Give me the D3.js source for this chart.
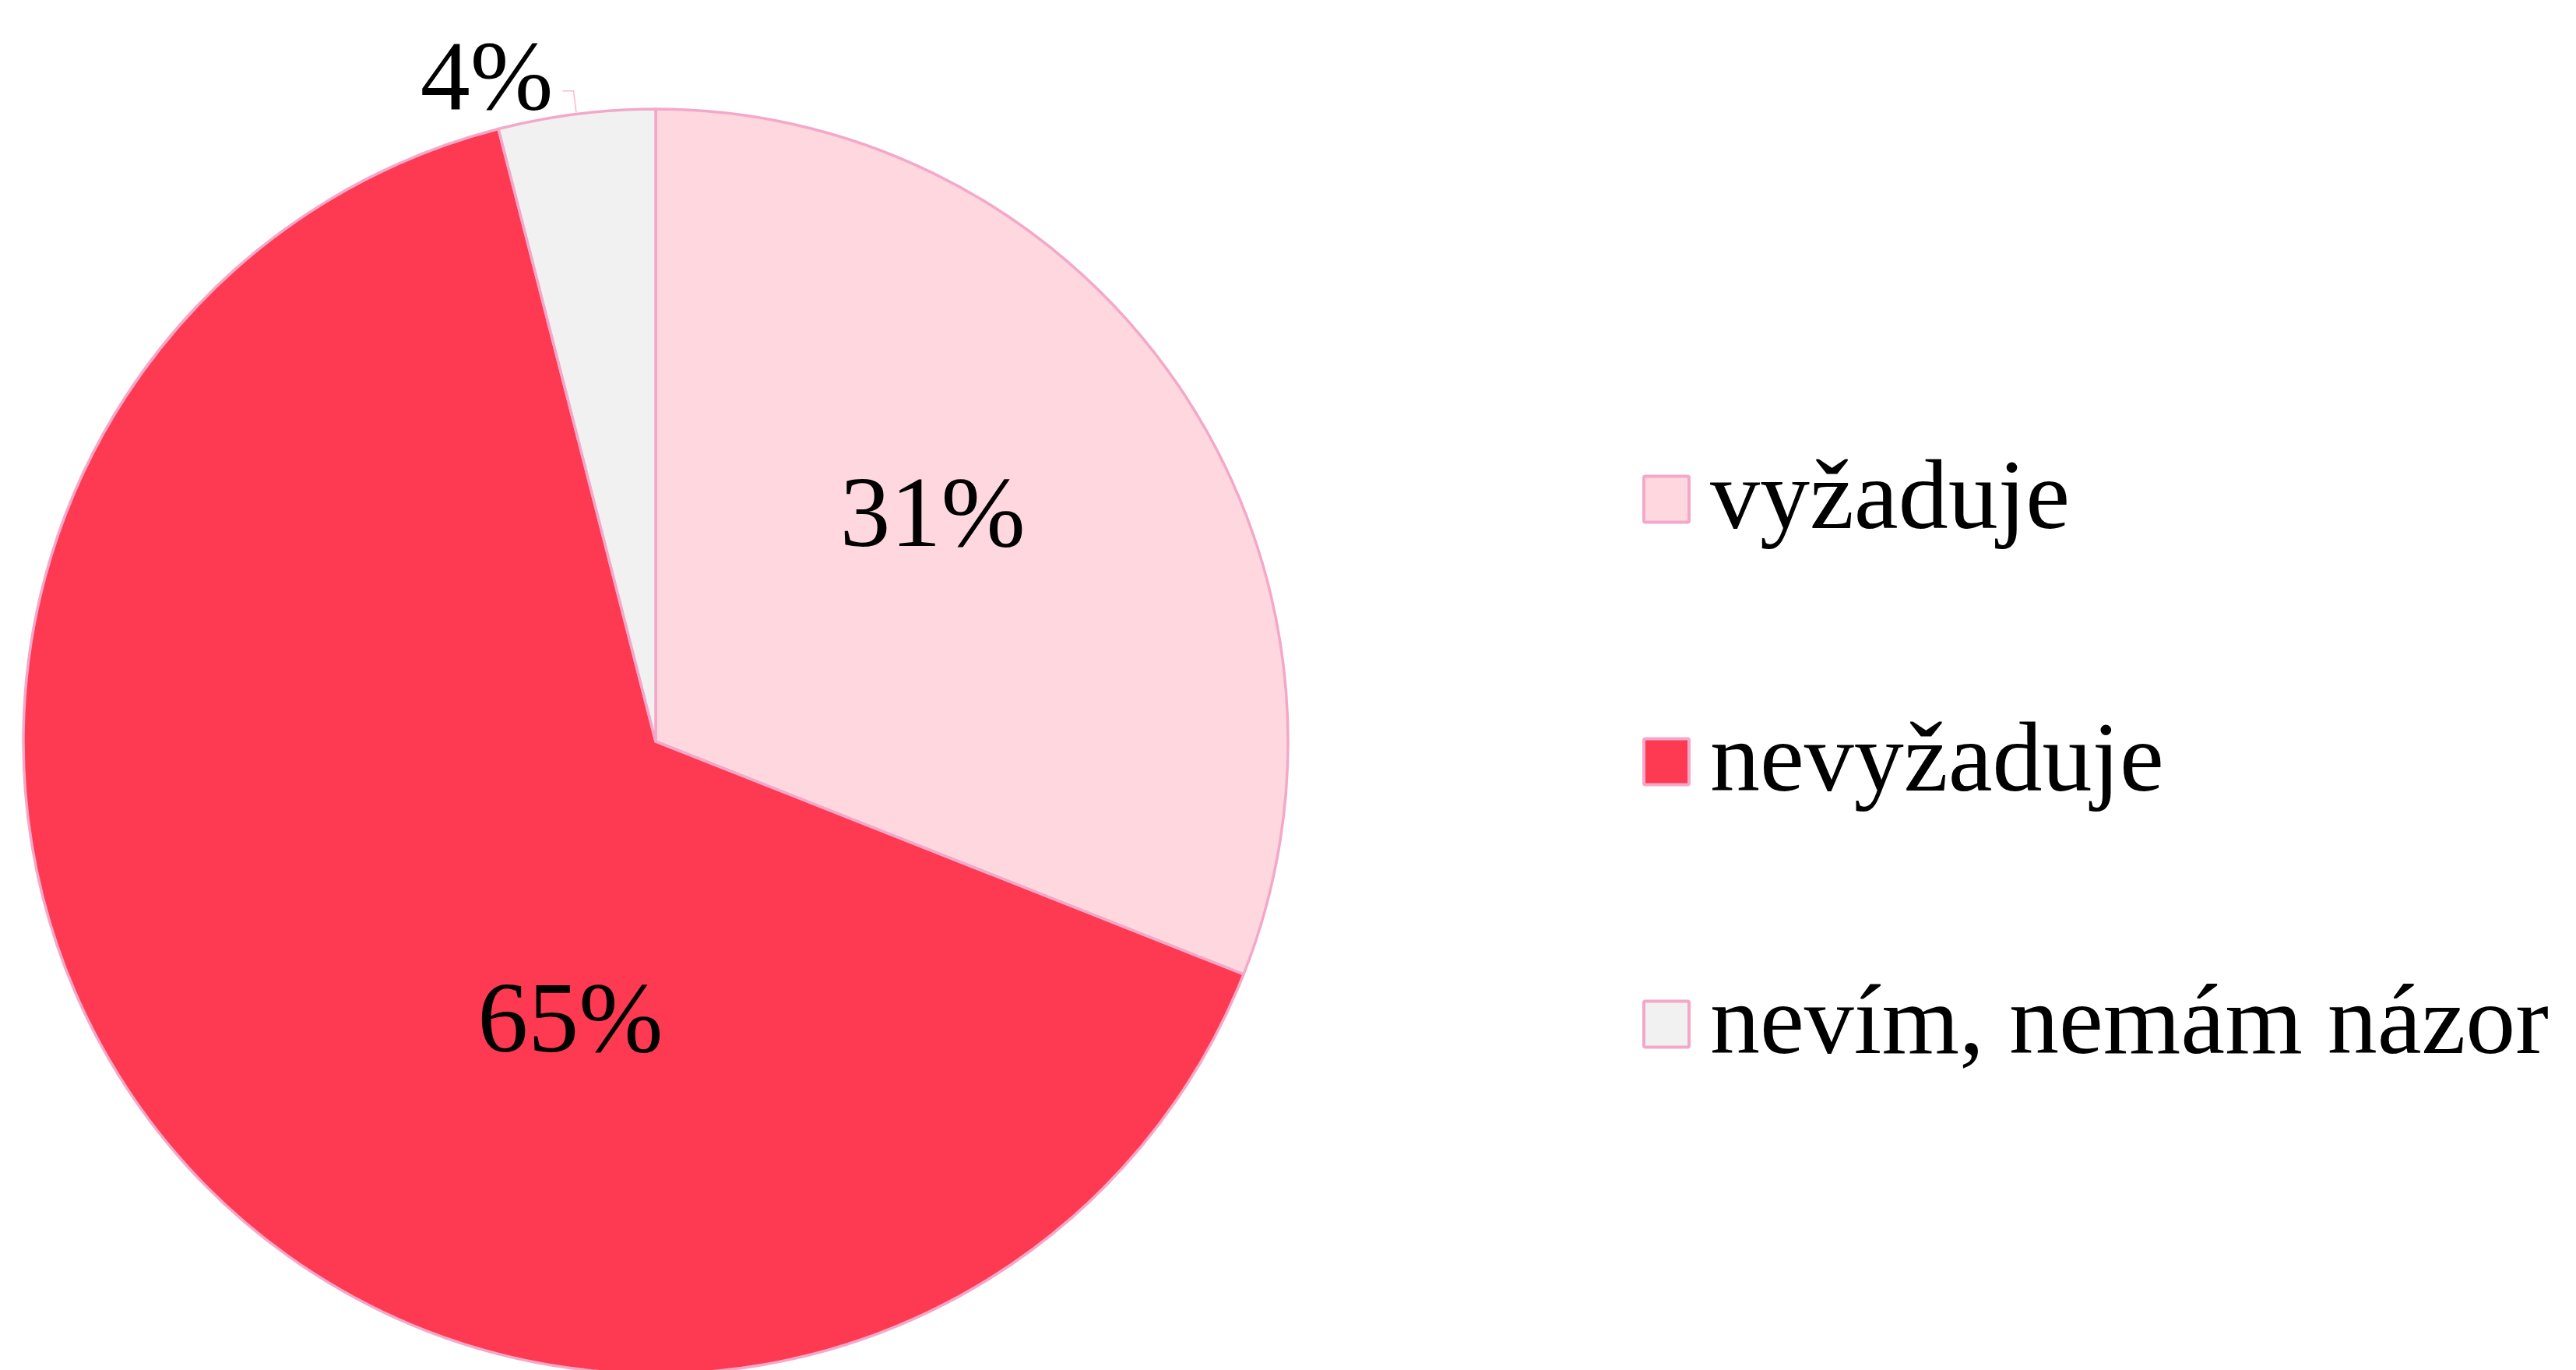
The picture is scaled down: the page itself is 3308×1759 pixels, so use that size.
<!DOCTYPE html>
<html>
<head>
<meta charset="utf-8">
<script src="https://cdn.jsdelivr.net/npm/d3@7"></script>
<style>
  html, body { margin: 0; padding: 0; background: #fff; }
  svg { display: block; font-family: "Liberation Serif", "DejaVu Serif", serif; }
</style>
</head>
<body>
<svg id="chart"></svg>
<script>
// Data
const categories = ["vyžaduje", "nevyžaduje", "nevím, nemám názor"]
const shares = [31, 65, 4]
const labels = ["31%", "65%", "4%"]

// Styling
const colors = ["#ffd7de", "#fd3a52", "#f1f1f1"]
const STROKE = "#f4a8c9"
const LEADER = "#f9b9c8"

const WIDTH = 3308
const HEIGHT = 1759
const CX = 842
const CY = 952
const RADIUS = 812

// label placement: fraction along the slice angle, fraction of radius, outside?
const LABEL_POS = [
  { t: 0.45, r: 0.57, outside: false },
  { t: 0.366, r: 0.455, outside: false },
  { t: 0.5, r: 1, outside: true },
]

const svg = d3.select("#chart").attr("width", WIDTH).attr("height", HEIGHT)

const pie = d3.pie().sort(null).value((d) => d)
const arcs = pie(shares)
const arc = d3.arc().innerRadius(0).outerRadius(RADIUS)

const g = svg.append("g").attr("transform", `translate(${CX},${CY})`)

g.selectAll("path.slice")
  .data(arcs)
  .join("path")
  .attr("class", "slice")
  .attr("d", arc)
  .attr("fill", (d, i) => colors[i])
  .attr("stroke", STROKE)
  .attr("stroke-width", 3.5)
  .attr("stroke-linejoin", "round")

// polar helper, angle measured clockwise from top
const polar = (a, r) => [r * Math.sin(a), -r * Math.cos(a)]

arcs.forEach((d, i) => {
  const p = LABEL_POS[i]
  const a = d.startAngle + (d.endAngle - d.startAngle) * p.t
  if (!p.outside) {
    const [x, y] = polar(a, RADIUS * p.r)
    g.append("text")
      .attr("x", x)
      .attr("y", y)
      .attr("text-anchor", "middle")
      .attr("dy", "0.35em")
      .attr("font-size", 130)
      .attr("fill", "#000")
      .text(labels[i])
  } else {
    // leader line: radial tick then a short horizontal run to the label
    const p0 = polar(a, RADIUS + 2)
    const p1 = polar(a, RADIUS + 30)
    const p2 = [p1[0] - 14, p1[1]]
    g.append("polyline")
      .attr("points", [p0, p1, p2].map((q) => q.join(",")).join(" "))
      .attr("fill", "none")
      .attr("stroke", LEADER)
      .attr("stroke-width", 1.5)
    g.append("text")
      .attr("x", p2[0] - 12)
      .attr("y", p2[1] + 23)
      .attr("text-anchor", "end")
      .attr("font-size", 128)
      .attr("fill", "#000")
      .text(labels[i])
  }
})

// Legend
const legendY = d3.scalePoint().domain(categories).range([641, 1315])

const legend = svg.append("g")
  .selectAll("g")
  .data(categories)
  .join("g")
  .attr("transform", (d) => `translate(2111,${legendY(d)})`)

legend.append("rect")
  .attr("x", 0)
  .attr("y", -29.5)
  .attr("width", 58)
  .attr("height", 59)
  .attr("rx", 2)
  .attr("fill", (d, i) => colors[i])
  .attr("stroke", STROKE)
  .attr("stroke-width", 4)

legend.append("text")
  .attr("x", 85)
  .attr("y", 37)
  .attr("font-size", 128)
  .attr("fill", "#000")
  .text((d) => d)
</script>
</body>
</html>
